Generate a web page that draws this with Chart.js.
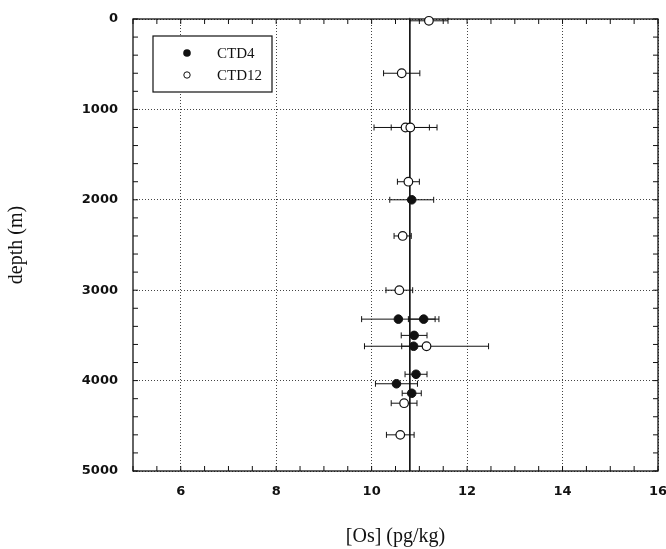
<!DOCTYPE html>
<html><head><meta charset="utf-8">
<script src="https://cdn.jsdelivr.net/npm/chart.js@4.4.0/dist/chart.umd.min.js"></script>
<style>html,body{margin:0;padding:0;background:#fff;overflow:hidden}</style>
</head><body>
<canvas id="c" width="666" height="549"></canvas>
<script>
// ---- data ----
const xTicks = [6, 8, 10, 12, 14, 16];
const yTicks = [0, 1000, 2000, 3000, 4000, 5000];
const xRange = [5, 16];

const seriesNames = ['CTD4', 'CTD12'];

const ctd4Depth = [2000, 3320, 3320, 3500, 3620, 3930, 4035, 4140];
const ctd4Os    = [10.84, 10.56, 11.09, 10.89, 10.88, 10.93, 10.52, 10.84];
const ctd4Err   = [0.46, 0.77, 0.32, 0.27, 0.25, 0.23, 0.44, 0.20];

const ctd12Depth = [20, 600, 1200, 1200, 1800, 2400, 3000, 3620, 4250, 4600];
const ctd12Os    = [11.2, 10.63, 10.71, 10.81, 10.77, 10.65, 10.58, 11.15, 10.68, 10.6];
const ctd12Err   = [0.4, 0.38, 0.66, 0.4, 0.23, 0.18, 0.28, 1.3, 0.27, 0.29];

const meanOs = [10.8];

// ---- chart ----
const INK = '#111';
const serif = "'Liberation Serif', 'Times New Roman', serif";
const sans = "'DejaVu Sans', sans-serif";

const toPts = (os, depth) => os.map((v, i) => ({ x: v, y: depth[i] }));

const framePlugin = {
  id: 'frame',
  beforeDatasetsDraw(chart) {
    const { ctx, chartArea: a, scales: { x, y } } = chart;
    ctx.save();
    ctx.strokeStyle = INK;
    ctx.lineWidth = 1.3;
    ctx.strokeRect(a.left, a.top, a.right - a.left, a.bottom - a.top);
    ctx.lineWidth = 1;
    ctx.beginPath();
    const tl = 5;
    for (let v = x.min; v <= x.max + 1e-9; v += 0.5) {
      const px = x.getPixelForValue(v);
      ctx.moveTo(px, a.bottom); ctx.lineTo(px, a.bottom - tl);
      ctx.moveTo(px, a.top); ctx.lineTo(px, a.top + tl);
    }
    for (let v = y.min; v <= y.max + 1e-9; v += 200) {
      const py = y.getPixelForValue(v);
      ctx.moveTo(a.left, py); ctx.lineTo(a.left + tl, py);
      ctx.moveTo(a.right, py); ctx.lineTo(a.right - tl, py);
    }
    ctx.stroke();
    // error bars
    ctx.lineWidth = 1;
    chart.data.datasets.forEach(ds => {
      if (!ds.err) return;
      ds.data.forEach((p, i) => {
        const e = ds.err[i];
        const x0 = x.getPixelForValue(p.x - e), x1 = x.getPixelForValue(p.x + e);
        const py = y.getPixelForValue(p.y);
        ctx.beginPath();
        ctx.moveTo(x0, py); ctx.lineTo(x1, py);
        ctx.moveTo(x0, py - 3); ctx.lineTo(x0, py + 3);
        ctx.moveTo(x1, py - 3); ctx.lineTo(x1, py + 3);
        ctx.stroke();
      });
    });
    ctx.restore();
  }
};

const legendPlugin = {
  id: 'boxLegend',
  afterDraw(chart) {
    const { ctx, chartArea: a } = chart;
    const bx = a.left + 20, by = a.top + 17, bw = 119, bh = 56;
    ctx.save();
    ctx.fillStyle = '#fff';
    ctx.fillRect(bx, by, bw, bh);
    ctx.strokeStyle = INK;
    ctx.lineWidth = 1.2;
    ctx.strokeRect(bx, by, bw, bh);
    const rows = [by + 17, by + 39];
    ctx.beginPath(); ctx.arc(bx + 34, rows[0], 3.8, 0, Math.PI * 2);
    ctx.fillStyle = INK; ctx.fill();
    ctx.beginPath(); ctx.arc(bx + 34, rows[1], 3.2, 0, Math.PI * 2);
    ctx.fillStyle = '#fff'; ctx.fill(); ctx.lineWidth = 1; ctx.stroke();
    ctx.fillStyle = INK;
    ctx.font = '15px ' + serif;
    ctx.textBaseline = 'middle';
    ctx.textAlign = 'left';
    ctx.fillText(seriesNames[0], bx + 64, rows[0] + 1);
    ctx.fillText(seriesNames[1], bx + 64, rows[1] + 1);
    ctx.restore();
  }
};

new Chart(document.getElementById('c'), {
  type: 'scatter',
  data: {
    datasets: [
      { label: seriesNames[0], data: toPts(ctd4Os, ctd4Depth), err: ctd4Err,
        pointRadius: 4.3, pointBackgroundColor: INK, pointBorderColor: INK, pointBorderWidth: 1, clip: false },
      { label: seriesNames[1], data: toPts(ctd12Os, ctd12Depth), err: ctd12Err,
        pointRadius: 4.3, pointBackgroundColor: '#fff', pointBorderColor: INK, pointBorderWidth: 1.2, clip: false },
      { label: 'mean', data: [{ x: meanOs[0], y: yTicks[0] }, { x: meanOs[0], y: yTicks[yTicks.length - 1] }],
        showLine: true, pointRadius: 0, borderColor: INK, borderWidth: 1, order: 5 }
    ]
  },
  options: {
    responsive: false,
    animation: false,
    layout: { padding: { top: 19, right: 8, left: 0, bottom: 0 } },
    plugins: { legend: { display: false }, tooltip: { enabled: false } },
    scales: {
      x: {
        type: 'linear', min: xRange[0], max: xRange[1],
        afterBuildTicks: s => { s.ticks = xTicks.map(v => ({ value: v })); },
        afterFit: s => { s.height = 78; s.paddingLeft = 0; s.paddingRight = 0; },
        grid: { color: '#444', lineWidth: 1, drawTicks: false },
        border: { display: false, dash: [1, 2] },
        ticks: { autoSkip: false, maxRotation: 0, padding: 13, color: INK,
                 font: { family: sans, size: 13, weight: 'bold' }, callback: v => String(v) },
        title: { display: true, text: '[Os] (pg/kg)', color: INK, font: { family: serif, size: 20 }, padding: { top: 0, bottom: 0 } }
      },
      y: {
        type: 'linear', reverse: true, min: yTicks[0], max: yTicks[yTicks.length - 1],
        afterBuildTicks: s => { s.ticks = yTicks.map(v => ({ value: v })); },
        afterFit: s => { s.width = 133; s.paddingTop = 0; s.paddingBottom = 0; },
        grid: { color: '#444', lineWidth: 1, drawTicks: false },
        border: { display: false, dash: [1, 2] },
        ticks: { autoSkip: false, padding: 15, color: INK,
                 font: { family: sans, size: 13, weight: 'bold' }, callback: v => String(v) },
        title: { display: true, text: 'depth (m)', color: INK, font: { family: serif, size: 20 }, padding: { top: 5, bottom: 0 } }
      }
    }
  },
  plugins: [framePlugin, legendPlugin]
});
</script>
</body></html>
